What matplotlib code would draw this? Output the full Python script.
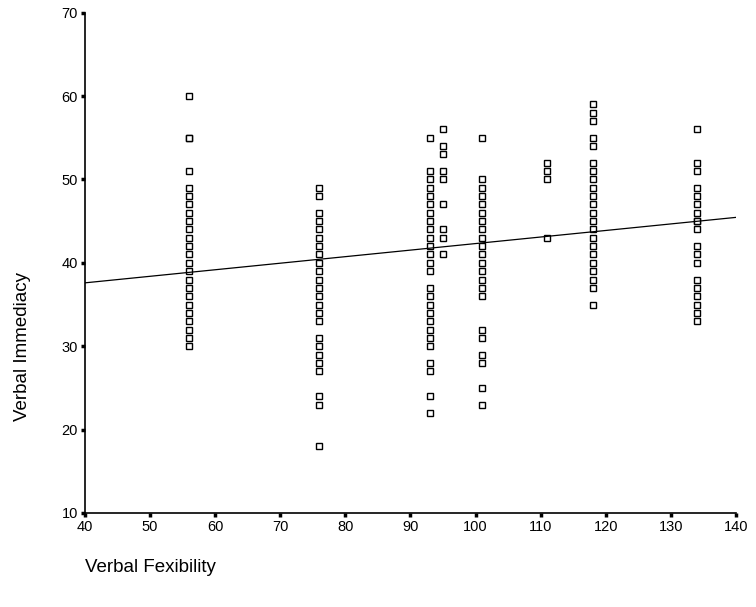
import numpy as np
import matplotlib.pyplot as plt

plt.rcParams['font.family'] = ['Liberation Sans', 'DejaVu Sans']

# verbal fexibility scores and the immediacy values recorded at each
flex_scores = [56, 76, 93, 95, 101, 111, 118, 134]
imm_56 = [60, 55, 55, 51] + list(range(49, 40, -1)) + list(range(40, 29, -1))
imm_76 = [49, 48] + list(range(46, 32, -1)) + list(range(31, 26, -1)) + [24, 23, 18]
imm_93 = [55] + list(range(51, 38, -1)) + list(range(37, 29, -1)) + [28, 27, 24, 22]
imm_95 = [56, 54, 53, 51, 50, 47, 44, 43, 41]
imm_101 = [55] + list(range(50, 35, -1)) + [32, 31, 29, 28, 25, 23]
imm_111 = [52, 51, 50, 43]
imm_118 = [59, 58, 57, 55, 54] + list(range(52, 36, -1)) + [35]
imm_134 = [56, 52, 51, 49, 48, 47, 46, 45, 45, 44, 42, 41, 40,
           38, 37, 36, 35, 34, 33]
groups = [imm_56, imm_76, imm_93, imm_95, imm_101, imm_111, imm_118, imm_134]

# fitted line
fit_intercept = 34.46
fit_slope = 0.0785

x = np.concatenate([[f] * len(g) for f, g in zip(flex_scores, groups)])
y = np.concatenate(groups)

fig = plt.figure(figsize=(7.56, 6.07), dpi=100)
ax = fig.add_axes([0.1124, 0.1549, 0.861, 0.8242])

ax.plot(x, y, "s", markersize=5, markerfacecolor="white",
        markeredgecolor="black", markeredgewidth=1.0, linestyle="none")

xl = np.array([40, 140])
ax.plot(xl, fit_intercept + fit_slope * xl, color="black", linewidth=0.9)

ax.set_xlim(40, 140)
ax.set_ylim(10, 70)
ax.set_xticks(np.arange(40, 141, 10))
ax.set_yticks(np.arange(10, 71, 10))
ax.spines["top"].set_visible(False)
ax.spines["right"].set_visible(False)
ax.spines["left"].set_linewidth(1.2)
ax.spines["bottom"].set_linewidth(1.2)
ax.tick_params(direction="out", length=3, width=2.5, labelsize=10.5, pad=2)

ax.set_ylabel("Verbal Immediacy", fontsize=13.5)
ax.yaxis.set_label_coords(-0.083, 0.332)
fig.text(85 / 756, 1 - 567 / 607, "Verbal Fexibility", fontsize=13.5,
         ha="left", va="center")

fig.savefig("out.png", dpi=100)
